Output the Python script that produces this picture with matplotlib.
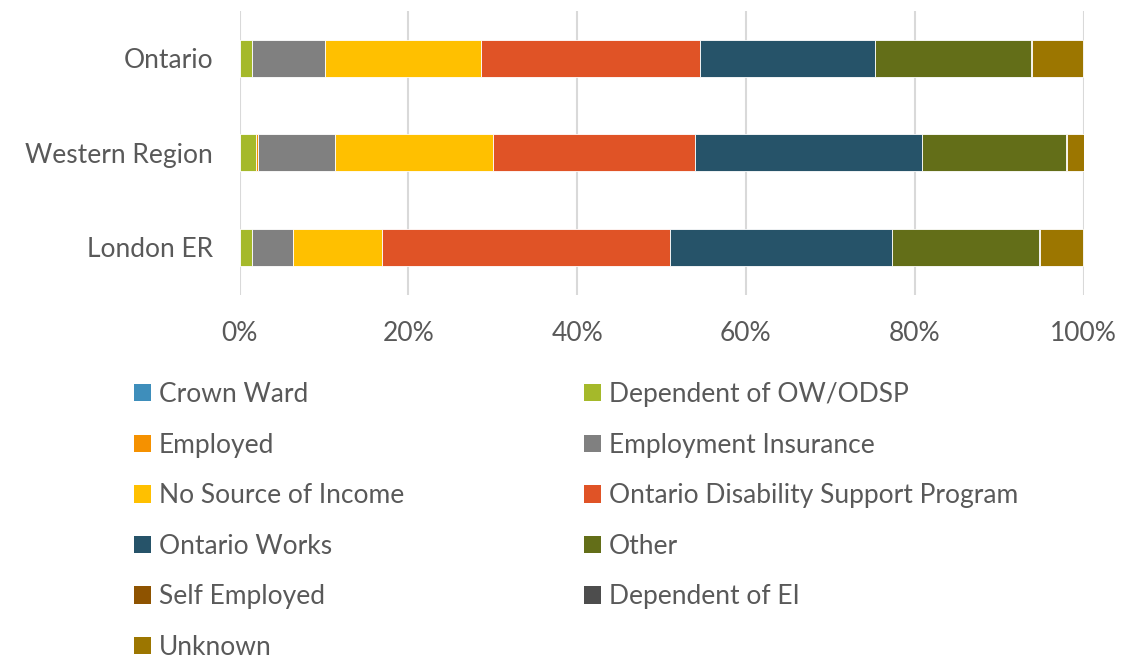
import matplotlib
matplotlib.use("Agg")
import matplotlib.pyplot as plt
from matplotlib.patches import Patch
from matplotlib.ticker import FuncFormatter, MultipleLocator

plt.rcParams['font.family'] = ['Lato', 'DejaVu Sans']

regions = ["Ontario", "Western Region", "London ER"]
series = ["Crown Ward", "Dependent of OW/ODSP", "Employed", "Employment Insurance",
          "No Source of Income", "Ontario Disability Support Program", "Ontario Works",
          "Other", "Self Employed", "Dependent of EI", "Unknown"]
crown_ward = [0.03, 0.03, 0.03]
dependent_ow = [1.45, 1.95, 1.45]
employed = [0.05, 0.25, 0.05]
employment_ins = [8.55, 9.1, 4.8]
no_source = [18.5, 18.7, 10.6]
odsp = [26.0, 23.9, 34.15]
ontario_works = [20.8, 26.95, 26.3]
other = [18.5, 17.1, 17.4]
self_employed = [0.05, 0.05, 0.05]
dependent_ei = [0.02, 0.02, 0.02]
unknown = [6.1, 1.95, 5.2]
values = [crown_ward, dependent_ow, employed, employment_ins, no_source, odsp,
          ontario_works, other, self_employed, dependent_ei, unknown]
colors = ["#3E8EBB", "#A5B92A", "#F59100", "#808080", "#FFC000", "#E05326",
          "#265369", "#636E18", "#8E5300", "#4D4D4D", "#9C7600"]

W, H = 1141, 661
fig = plt.figure(figsize=(W / 100, H / 100), dpi=100)
ax = fig.add_axes([239.5 / W, 1 - 294.5 / H, 844 / W, 283.5 / H])

txt = "#595959"
fs = 19

# normalize to 100%
totals = [sum(v[i] for v in values) for i in range(len(regions))]
ypos = list(range(len(regions)))
left = [0.0] * len(regions)
for name, vals, c in zip(series, values, colors):
    pct = [vals[i] / totals[i] * 100 for i in range(len(regions))]
    ax.barh(ypos, pct, left=left, height=0.39, color=c, edgecolor="white",
            linewidth=0.6, zorder=3)
    left = [left[i] + pct[i] for i in range(len(regions))]

ax.set_xlim(0, 100)
ax.set_ylim(2.5, -0.5)
ax.set_yticks(ypos)
ax.set_yticklabels(regions)
ax.xaxis.set_major_locator(MultipleLocator(20))
ax.xaxis.set_major_formatter(FuncFormatter(lambda v, p: f"{int(v)}%"))
ax.tick_params(axis='both', length=0, labelsize=fs, labelcolor=txt)
ax.tick_params(axis='x', pad=19)
ax.tick_params(axis='y', pad=19)
ax.grid(axis='x', color="#D9D9D9", linewidth=1.5, zorder=0)
for s in ax.spines.values():
    s.set_visible(False)

handles = [Patch(facecolor=c, edgecolor='none', label=n) for n, c in zip(series, colors)]
col1 = handles[0::2]
col2 = handles[1::2]
common = dict(frameon=False, fontsize=fs, labelcolor=txt, handlelength=0.64,
              handleheight=0.64, handletextpad=0.3, labelspacing=0.97,
              borderpad=0, borderaxespad=0, loc='upper left')
fig.legend(handles=col1, bbox_to_anchor=(134 / W, 1 - 382 / H), **common)
fig.legend(handles=col2, bbox_to_anchor=(584 / W, 1 - 382 / H), **common)

fig.savefig("out.png", dpi=100)
